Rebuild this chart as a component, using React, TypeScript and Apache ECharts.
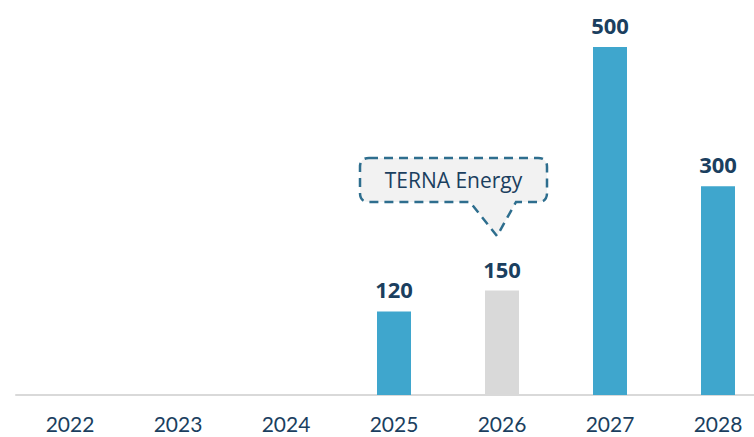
import React, { useEffect, useRef } from "react";
import * as echarts from "echarts";

const years = ["2022", "2023", "2024", "2025", "2026", "2027", "2028"];
const capacityValues: (number | null)[] = [null, null, null, 120, 150, 500, 300];
const greyYears = ["2026"];
const calloutText = "TERNA Energy";

const BLUE = "#3FA6CD";
const GREY = "#D9D9D9";
const NAVY = "#1B3F5F";

const calloutPath =
  "M369,158 L538,158 Q547,158 547,167 L547,193 Q547,202 538,202 L516,202 L497,236 L470,202 L369,202 Q360,202 360,193 L360,167 Q360,158 369,158 Z";

let registered = false;
function registerCallout() {
  if (registered) return;
  echarts.graphic.registerShape("callout", echarts.graphic.extendPath(calloutPath, {}) as any);
  registered = true;
}

export default function App() {
  const ref = useRef<HTMLDivElement>(null);
  useEffect(() => {
    if (!ref.current) return;
    registerCallout();
    const chart = echarts.init(ref.current, undefined, { renderer: "svg" });
    const font = "'Open Sans', sans-serif";
    chart.setOption({
      animation: false,
      grid: { left: 16, right: 0, top: 47, bottom: 42, containLabel: false },
      xAxis: {
        type: "category",
        data: years,
        axisLine: { show: true, lineStyle: { color: GREY, width: 2 } },
        axisTick: { show: false },
        axisLabel: { color: NAVY, fontSize: 21, fontFamily: "Lato, sans-serif", margin: 20, lineHeight: 16 },
      },
      yAxis: { type: "value", min: 0, max: 500, show: false, splitLine: { show: false } },
      series: [
        {
          type: "bar",
          barWidth: 34,
          data: capacityValues.map((v, i) =>
            v == null
              ? "-"
              : { value: v, itemStyle: { color: greyYears.includes(years[i]) ? GREY : BLUE } }
          ),
          label: {
            show: true,
            position: "top",
            distance: 11,
            color: NAVY,
            fontWeight: "bold",
            fontSize: 22,
            fontFamily: font,
          },
        },
      ],
      graphic: [
        {
          type: "callout",
          x: 0,
          y: 0,
          style: { fill: "#F2F2F2", stroke: "#2E6E8E", lineWidth: 2.5, lineDash: [9, 6] },
        },
        {
          type: "text",
          x: 453.5,
          y: 180,
          style: {
            text: calloutText,
            fill: NAVY,
            fontSize: 21,
            fontFamily: font,
            align: "center",
            verticalAlign: "middle",
          },
        },
      ],
    });
    return () => chart.dispose();
  }, []);
  return (
    <div style={{ position: "absolute", left: 0, top: 0, width: 754, height: 437, overflow: "hidden" }}>
      <div ref={ref} style={{ width: 772, height: 437 }} />
    </div>
  );
}
